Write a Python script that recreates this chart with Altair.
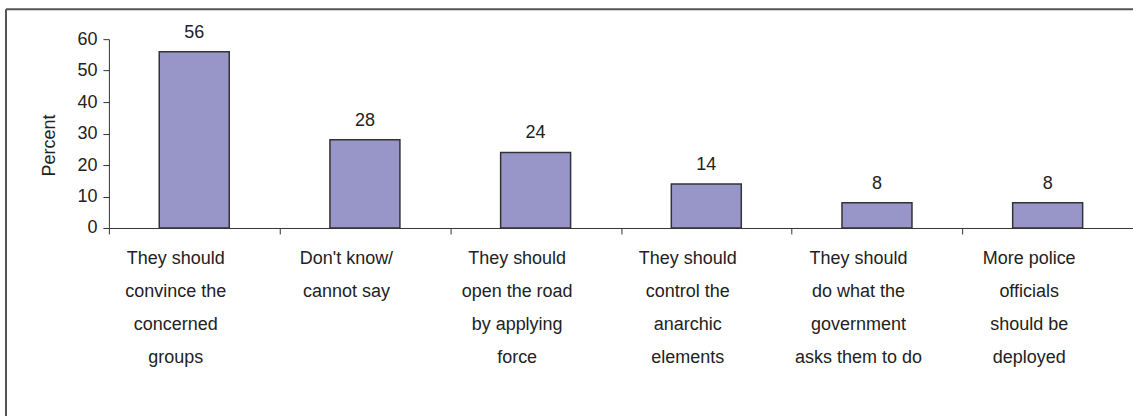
import altair as alt
import pandas as pd

categories = [
    "They should|convince the|concerned|groups",
    "Don't know/|cannot say",
    "They should|open the road|by applying|force",
    "They should|control the|anarchic|elements",
    "They should|do what the|government|asks them to do",
    "More police|officials|should be|deployed",
]
values = [56, 28, 24, 14, 8, 8]
y_ticks = [0, 10, 20, 30, 40, 50, 60]

df = pd.DataFrame({"category": categories, "value": values})

FONT = "Liberation Sans"
AX = "#333333"
TXT = "#222222"

x_enc = alt.X(
    "category:N",
    sort=categories,
    scale=alt.Scale(paddingInner=0, paddingOuter=0),
    axis=alt.Axis(
        title=None,
        labelAngle=0,
        tickBand="extent",
        tickSize=6,
        tickColor=AX,
        domainColor=AX,
        labelExpr="split(datum.label, '|')",
        labelLineHeight=33,
        labelFontSize=18,
        labelFont=FONT,
        labelColor=TXT,
        labelPadding=16,
        labelOffset=-19,
        labelLimit=0,
        labelBaseline="top",
        labelOverlap=False,
    ),
)
y_enc = alt.Y(
    "value:Q",
    scale=alt.Scale(domain=[0, 60]),
    axis=alt.Axis(
        values=y_ticks,
        title="Percent",
        grid=False,
        tickSize=6,
        tickColor=AX,
        domainColor=AX,
        labelFontSize=18,
        labelFont=FONT,
        labelColor=TXT,
        labelPadding=6,
        labelOverlap=False,
        titleFontSize=18,
        titleFont=FONT,
        titleColor=TXT,
        titleFontWeight="normal",
        titleX=-59,
        titleY=106,
        titleAngle=270,
        titleBaseline="middle",
        titleAlign="center",
    ),
)

base = alt.Chart(df).encode(x=x_enc, y=y_enc)
bars = base.mark_bar(
    width=alt.RelativeBandSize(0.41),
    color="#9896C8",
    stroke="#333333",
    strokeWidth=1.5,
)

labels = base.mark_text(
    dy=-14, baseline="alphabetic", fontSize=18, font=FONT, color=TXT
).encode(text="value:Q")

frame_df = pd.DataFrame({"a": [0]})
frame_v = alt.Chart(frame_df).mark_rule(color="#555555", strokeWidth=2).encode(
    x=alt.value(-103), y=alt.value(-30), y2=alt.value(400)
)
frame_h = alt.Chart(frame_df).mark_rule(color="#555555", strokeWidth=2).encode(
    y=alt.value(-30), x=alt.value(-103), x2=alt.value(1100)
)

chart = (
    alt.layer(bars, labels, frame_v, frame_h)
    .properties(
        width=1025,
        height=189,
        autosize=alt.AutoSizeParams(type="none"),
        padding={"left": 109, "top": 39, "right": 0, "bottom": 188},
        background="white",
    )
    .configure_view(stroke=None)
)

chart.save("out.html", embed_options={"renderer": "svg", "actions": False})
